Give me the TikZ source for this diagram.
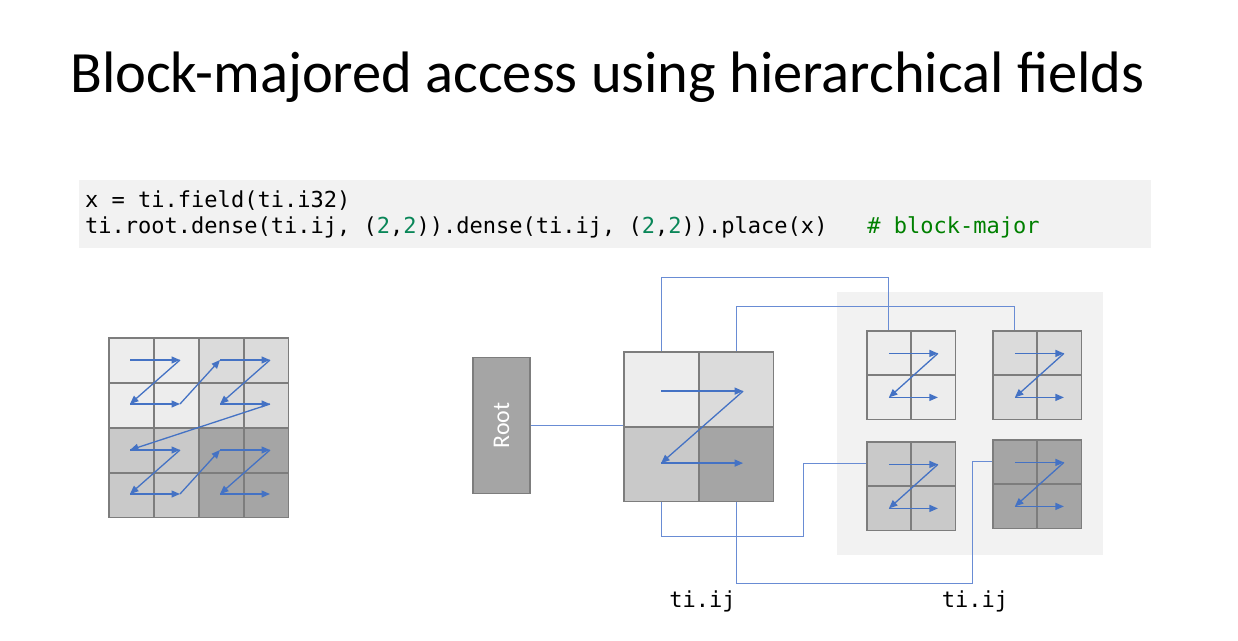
\documentclass[tikz,border=0pt]{standalone}
\usepackage{fontspec}
\setmainfont{Carlito}
\newfontfamily\codefont{DejaVu Sans Mono}
\usetikzlibrary{arrows.meta,calc}
\definecolor{gridgray}{RGB}{125,125,125}
\definecolor{cA}{RGB}{237,237,237}
\definecolor{cB}{RGB}{219,219,219}
\definecolor{cC}{RGB}{201,201,201}
\definecolor{cD}{RGB}{165,165,165}
\definecolor{panelgray}{RGB}{242,242,242}
\definecolor{zblue}{RGB}{68,114,196}
\definecolor{connblue}{RGB}{105,140,212}
\definecolor{numgreen}{RGB}{9,134,88}
\definecolor{comgreen}{RGB}{0,128,0}
\tikzset{
  cellbox/.style={draw=gridgray, line width=1.5bp, inner sep=0pt, minimum width=#1, minimum height=#1, anchor=north west},
  zarrow/.style={draw=zblue, line width=1.3bp, -{Triangle[length=8.5bp,width=7bp]}},
  conn/.style={draw=connblue, line width=0.9bp},
  codetext/.style={font=\codefont\fontsize{22.1}{24}\selectfont, anchor=base west, inner sep=0pt},
}
\begin{document}
\begin{tikzpicture}[x=1bp,y=-1bp]
\useasboundingbox (0,0) rectangle (1238,641);
% title
\node[anchor=base west, inner sep=0pt, font=\fontsize{58.7}{64}\selectfont] (title) at (70,93) {Block-majored access using hierarchical fields};
% code box
\node[fill=panelgray, anchor=north west, inner sep=0pt, minimum width=1076, minimum height=68] (codebox) at (79,180) {};
\node[codetext] (code1) at (85,208) {x = ti.field(ti.i32)};
\node[codetext] (code2) at (85,234) {ti.root.dense(ti.ij, (\textcolor{numgreen}{2},\textcolor{numgreen}{2})).dense(ti.ij, (\textcolor{numgreen}{2},\textcolor{numgreen}{2})).place(x)\ \ \ \textcolor{comgreen}{\# block-major}};

% left 4x4 grid
\foreach \r in {0,1,2,3}{
  \foreach \c in {0,1,2,3}{
    \pgfmathtruncatemacro{\bx}{int(\c/2)}
    \pgfmathtruncatemacro{\by}{int(\r/2)}
    \pgfmathtruncatemacro{\blk}{\by*2+\bx}
    \ifcase\blk \def\cc{cA}\or \def\cc{cB}\or \def\cc{cC}\or \def\cc{cD}\fi
    \node[cellbox=45, fill=\cc] (g\r\c) at ({108+45*\c},{337+45*\r}) {};
  }
}
% left grid arrows (block-major Z order)
\foreach \bx/\by/\nx/\ny in {0/0/1/0, 1/0/0/1, 0/1/1/1, 1/1/-1/-1}{
  \pgfmathsetmacro{\L}{108+90*\bx+22}
  \pgfmathsetmacro{\R}{\L+50}
  \pgfmathsetmacro{\T}{337+90*\by+23}
  \pgfmathsetmacro{\B}{\T+44}
  \draw[zarrow] (\L,\T) -- (\R,\T);
  \draw[zarrow] (\R,\T) -- (\L,\B);
  \draw[zarrow] (\L,\B) -- (\R,\B);
  \ifnum\nx>-1
    \pgfmathsetmacro{\NL}{108+90*\nx+22}
    \pgfmathsetmacro{\NT}{337+90*\ny+23}
    \draw[zarrow] (\R,\B) -- (\NL,\NT);
  \fi
}

% gray panel for level-2 blocks
\node[fill=panelgray, anchor=north west, inner sep=0pt, minimum width=267, minimum height=264] (panel) at (837,292) {};

% Root
\node[fill=cD, draw=gridgray, line width=1.3bp, minimum width=57, minimum height=137, inner sep=0pt] (root) at (501.5,425.5) {};
\node[rotate=90, text=white, font=\fontsize{24}{26}\selectfont] (roottext) at (root.center) {Root};

% big 2x2 block
\node[cellbox=75, fill=cA] (bigTL) at (623,351) {};
\node[cellbox=75, fill=cB] (bigTR) at (698,351) {};
\node[cellbox=75, fill=cC] (bigBL) at (623,426) {};
\node[cellbox=75, fill=cD] (bigBR) at (698,426) {};
\draw[zarrow] ($(bigTL.center)+(0,2)$) -- ($(bigTR.center)+(7,2)$);
\draw[zarrow] ($(bigTR.center)+(7,2)$) -- ($(bigBL.center)+(0,-1)$);
\draw[zarrow] ($(bigBL.center)+(0,-1)$) -- ($(bigBR.center)+(7,-1)$);

% small blocks
\foreach \nm/\x/\y/\cc in {sA/866/330/cA, sB/992/330/cB, sC/866/441/cC, sD/992/439/cD}{
  \node[cellbox=44.5, fill=\cc] (\nm1) at (\x,\y) {};
  \node[cellbox=44.5, fill=\cc] (\nm2) at (\x+44.5,\y) {};
  \node[cellbox=44.5, fill=\cc] (\nm3) at (\x,\y+44.5) {};
  \node[cellbox=44.5, fill=\cc] (\nm4) at (\x+44.5,\y+44.5) {};
  \draw[zarrow] ($(\nm1.center)+(0,0.5)$) -- ($(\nm2.center)+(4.5,0.5)$);
  \draw[zarrow] ($(\nm2.center)+(4.5,0.5)$) -- ($(\nm3.center)+(0,0)$);
  \draw[zarrow] ($(\nm3.center)+(0,0)$) -- ($(\nm4.center)+(4.5,0)$);
}

% connectors
\draw[conn] (root.east) -- (root.east -| bigTL.west);
\draw[conn] (bigTL.north) -- ++(0,-74) -| (sA1.north);
\draw[conn] (bigTR.north) -- ++(0,-45) -| (sB1.north);
\draw[conn] (bigBL.south) -- ++(0,34.5) -- ++(142.5,0) |- (sC1.west);
\draw[conn] (bigBR.south) -- ++(0,81) -- ++(236.5,0) |- (sD1.west);

% labels
\node[codetext, anchor=base] (lab1) at (702.5,607) {ti.ij};
\node[codetext, anchor=base] (lab2) at (975,607) {ti.ij};
\end{tikzpicture}
\end{document}
